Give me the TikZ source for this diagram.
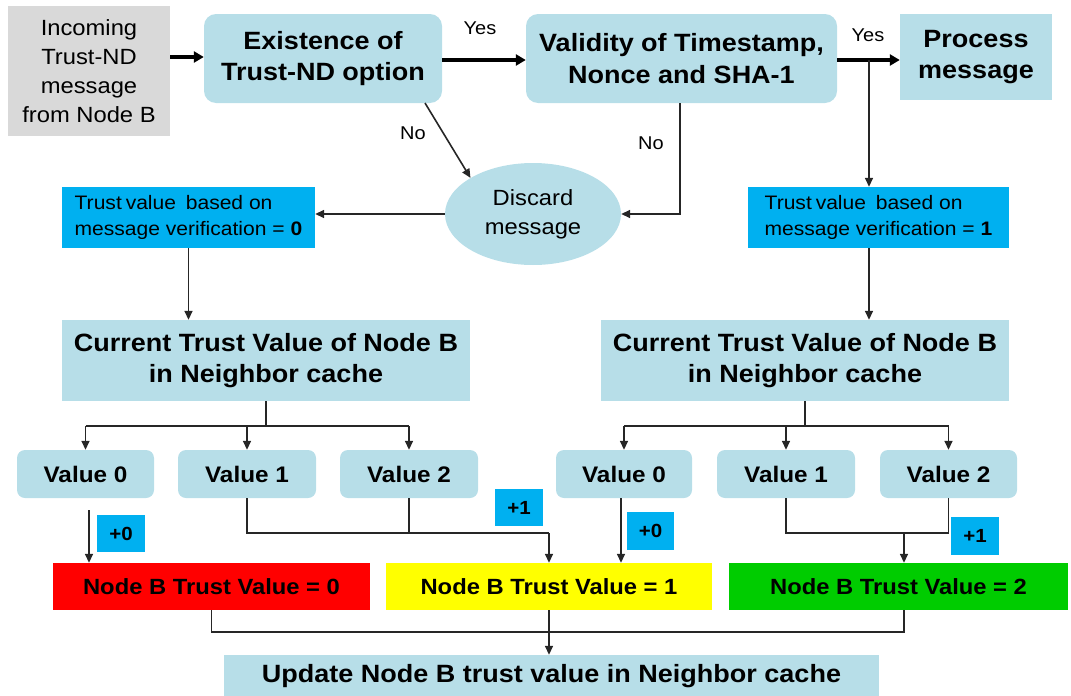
\documentclass[tikz,border=0pt]{standalone}
\usepackage{fontspec}
\setmainfont{Liberation Sans}[FakeStretch=1.08]
\usetikzlibrary{shapes.geometric,arrows.meta}

\definecolor{paleaqua}{HTML}{B7DEE8}
\definecolor{panelgray}{HTML}{D9D9D9}
\definecolor{skyblue}{HTML}{00B0F0}
\definecolor{trustred}{HTML}{FF0000}
\definecolor{trustyellow}{HTML}{FFFF00}
\definecolor{trustgreen}{HTML}{00CC00}
\definecolor{linecol}{HTML}{262626}

\newcommand\tfBig{\bfseries\fontsize{25}{31.5}\selectfont}
\newcommand\tfVal{\bfseries\fontsize{22.5}{26}\selectfont}
\newcommand\tfRes{\bfseries\fontsize{22}{26}\selectfont}
\newcommand\tfBlue{\fontsize{19.5}{26}\selectfont}
\newcommand\tfInc{\fontsize{22}{29}\selectfont}
\newcommand\tfLab{\fontsize{18.5}{22}\selectfont}
\newcommand\tfPlus{\bfseries\fontsize{19}{22}\selectfont}

\tikzset{
  box/.style={draw=none, inner sep=0pt, align=center, text=black},
  aquabox/.style={box, fill=paleaqua, font=\tfBig},
  roundbox/.style={aquabox, rounded corners=12pt},
  valbox/.style={box, fill=paleaqua, rounded corners=8pt, font=\tfVal},
  verbox/.style={box, fill=skyblue, align=left, font=\tfBlue},
  plusbox/.style={box, fill=skyblue, font=\tfPlus},
  resbox/.style={box, font=\tfRes},
  lab/.style={inner sep=0pt, font=\tfLab},
  conn/.style={draw=linecol, line width=1.6pt},
  arr/.style={conn, -{Triangle[length=9pt,width=8pt]}},
  bigarr/.style={draw=black, line width=3.4pt, -{Triangle[length=10pt,width=11pt]}},
}

\begin{document}
\begin{tikzpicture}[x=1pt, y=-1pt]
  \useasboundingbox (0,0) rectangle (1071,696);

  % top row
  \node[box, fill=panelgray, font=\tfInc, minimum width=162pt, minimum height=130pt]
    (inc) at (89,71) {Incoming\\Trust-ND\\message\\from Node B};
  \node[roundbox, minimum width=238pt, minimum height=89pt]
    (exist) at (323,58.5) {Existence of\\Trust-ND option};
  \node[roundbox, minimum width=311pt, minimum height=89pt]
    (valid) at (681.5,58.5) {Validity of Timestamp,\\Nonce and SHA-1};
  \node[aquabox, minimum width=152pt, minimum height=86pt]
    (proc) at (976,57) {Process\\message};

  % discard and verification results
  \node[ellipse, fill=paleaqua, inner sep=0pt, minimum width=176pt, minimum height=102pt,
        align=center, font=\tfInc]
    (disc) at (533,214) {Discard\\message};
  \node[verbox, minimum width=253pt, minimum height=61pt]
    (blueL) at (188.5,217.5) {Trust\hspace{0.2em}value\hspace{0.5em}based on\\message verification = \textbf{0}};
  \node[verbox, minimum width=261pt, minimum height=61pt]
    (blueR) at (878.5,217.5) {Trust\hspace{0.2em}value\hspace{0.5em}based on\\message verification = \textbf{1}};

  % cached trust values
  \node[aquabox, minimum width=408pt, minimum height=81pt]
    (curL) at (266,360.5) {Current Trust Value of Node B\\in Neighbor cache};
  \node[aquabox, minimum width=408pt, minimum height=81pt]
    (curR) at (805,360.5) {Current Trust Value of Node B\\in Neighbor cache};

  \node[valbox, minimum width=137pt, minimum height=48pt] (v0L) at (85.5,474) {Value 0};
  \node[valbox, minimum width=138pt, minimum height=48pt] (v1L) at (247,474) {Value 1};
  \node[valbox, minimum width=138pt, minimum height=48pt] (v2L) at (409,474) {Value 2};
  \node[valbox, minimum width=136pt, minimum height=48pt] (v0R) at (624,474) {Value 0};
  \node[valbox, minimum width=138pt, minimum height=48pt] (v1R) at (786,474) {Value 1};
  \node[valbox, minimum width=137pt, minimum height=48pt] (v2R) at (948.5,474) {Value 2};

  % increments
  \node[plusbox, minimum width=48pt, minimum height=37pt] (p0L) at (121,533.5) {+0};
  \node[plusbox, minimum width=48pt, minimum height=37pt] (p1L) at (519,507.5) {+1};
  \node[plusbox, minimum width=47pt, minimum height=38pt] (p0R) at (650.5,531) {+0};
  \node[plusbox, minimum width=48pt, minimum height=38pt] (p1R) at (975,536) {+1};

  % resulting trust values
  \node[resbox, fill=trustred, minimum width=317pt, minimum height=47pt]
    (red) at (211.5,586.5) {Node B Trust Value = 0};
  \node[resbox, fill=trustyellow, minimum width=326pt, minimum height=47pt]
    (yellow) at (549,586.5) {Node B Trust Value = 1};
  \node[resbox, fill=trustgreen, minimum width=339pt, minimum height=47pt]
    (green) at (898.5,586.5) {Node B Trust Value = 2};

  \node[aquabox, minimum width=655pt, minimum height=42pt]
    (update) at (551.5,676) {Update Node B trust value in Neighbor cache};

  % branch labels
  \node[lab] (yes1) at (480,28) {Yes};
  \node[lab] (yes2) at (868,35) {Yes};
  \node[lab] (no1) at (413,133) {No};
  \node[lab] (no2) at (651,143) {No};

  % helper rows and columns
  \coordinate (rowA) at (0,57);
  \coordinate (rowB) at (0,60);
  \coordinate (split) at (869,60);
  \coordinate (n1s) at (425,103);
  \coordinate (n2) at (680,0);
  \coordinate (barL) at (0,426);
  \coordinate (mid) at (0,533);
  \coordinate (a0L) at (89,510);
  \coordinate (a0R) at (621,0);
  \coordinate (gm) at (904,533);
  \coordinate (bot) at (0,632);

  % main flow
  \draw[bigarr] (inc.east |- rowA) -- (exist.west |- rowA);
  \draw[bigarr] (exist.east |- rowB) -- (valid.west |- rowB);
  \draw[bigarr] (valid.east |- rowB) -- (proc.west |- rowB);
  \draw[arr] (split) -- (blueR.north -| split);

  % rejection paths
  \draw[arr] (n1s) -- (disc.150);
  \draw[arr] (n2 |- valid.south) |- (disc.east);
  \draw[arr] (disc.west) -- (blueL.east |- disc.west);

  % into the neighbor cache lookup
  \draw[arr] (blueL.south) -- (blueL.south |- curL.north);
  \draw[arr] (blueR.south -| split) -- (curR.north -| split);

  % left fan-out
  \draw[conn] (curL.south) -- (curL.south |- barL);
  \draw[conn] (v0L.north |- barL) -- (v2L.north |- barL);
  \draw[arr] (v0L.north |- barL) -- (v0L.north);
  \draw[arr] (v1L.north |- barL) -- (v1L.north);
  \draw[arr] (v2L.north |- barL) -- (v2L.north);

  % right fan-out
  \draw[conn] (curR.south) -- (curR.south |- barL);
  \draw[conn] (v0R.north |- barL) -- (v2R.north |- barL);
  \draw[arr] (v0R.north |- barL) -- (v0R.north);
  \draw[arr] (v1R.north |- barL) -- (v1R.north);
  \draw[arr] (v2R.north |- barL) -- (v2R.north);

  % left values to results
  \draw[arr] (a0L) -- (red.north -| a0L);
  \draw[conn] (v1L.south) |- (yellow.north |- mid);
  \draw[conn] (v2L.south) -- (v2L.south |- mid);
  \draw[arr] (yellow.north |- mid) -- (yellow.north);

  % right values to results
  \draw[arr] (a0R |- v0R.south) -- (a0R |- yellow.north);
  \draw[conn] (v1R.south) -- (v1R.south |- mid) -- (v2R.south |- mid) -- (v2R.south);
  \draw[arr] (gm) -- (gm |- green.north);

  % merge into the update step
  \draw[conn] (red.south) -- (red.south |- bot) -- (gm |- bot) -- (gm |- green.south);
  \draw[arr] (yellow.south) -- (yellow.south |- update.north);
\end{tikzpicture}
\end{document}
